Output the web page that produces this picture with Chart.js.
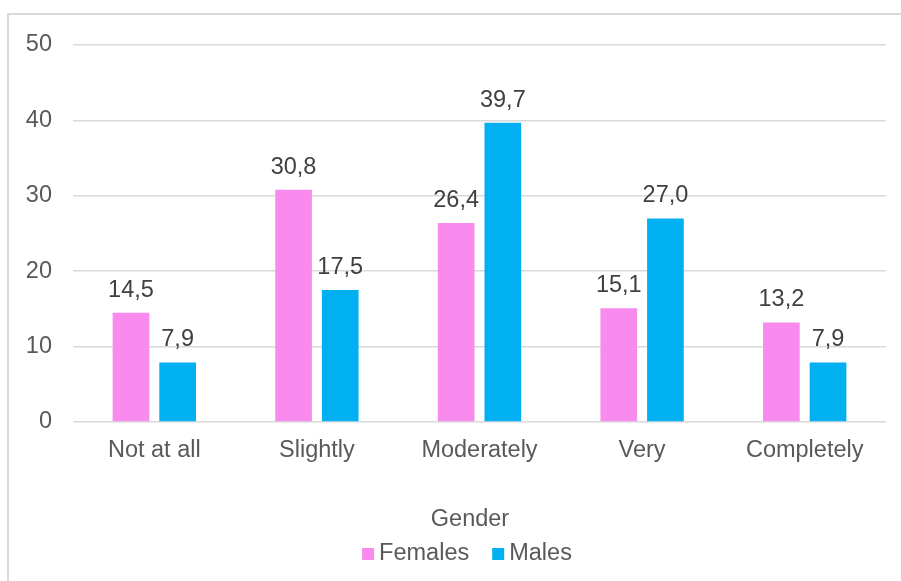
<!DOCTYPE html>
<html>
<head>
<meta charset="utf-8">
<script src="https://cdn.jsdelivr.net/npm/chart.js@4.4.1/dist/chart.umd.min.js"></script>
<style>
  html, body { margin: 0; padding: 0; background: #ffffff; }
  #wrap { width: 901px; height: 581px; }
</style>
</head>
<body>
<div id="wrap"><canvas id="c" width="901" height="581"></canvas></div>
<script>
// Response categories and share (%) by gender
const categories = ['Not at all', 'Slightly', 'Moderately', 'Very', 'Completely'];
const females = [14.5, 30.8, 26.4, 15.1, 13.2];
const males = [7.9, 17.5, 39.7, 27.0, 7.9];
const yTicks = [0, 10, 20, 30, 40, 50];
const legendTitle = 'Gender';

const FONT = '"Liberation Sans", Arial, sans-serif';
const FONT_SIZE = 23.5;
const TEXT = '#595959';

// Light grey frame around the whole chart
const framePlugin = {
  id: 'frame',
  beforeDraw(chart) {
    const ctx = chart.ctx;
    ctx.save();
    ctx.strokeStyle = '#d9d9d9';
    ctx.lineWidth = 2;
    ctx.strokeRect(8, 14, 910, 590);
    ctx.restore();
  }
};

// Value labels above each bar, decimal comma
const valueLabels = {
  id: 'valueLabels',
  afterDatasetsDraw(chart) {
    const ctx = chart.ctx;
    ctx.save();
    ctx.font = FONT_SIZE + 'px ' + FONT;
    ctx.fillStyle = '#404040';
    ctx.textAlign = 'center';
    ctx.textBaseline = 'alphabetic';
    chart.data.datasets.forEach((ds, di) => {
      chart.getDatasetMeta(di).data.forEach((bar, i) => {
        const txt = ds.data[i].toFixed(1).replace('.', ',');
        ctx.fillText(txt, bar.x, bar.y - 16);
      });
    });
    ctx.restore();
  }
};

// Legend with title, drawn below the x axis labels
const bottomLegend = {
  id: 'bottomLegend',
  afterDraw(chart) {
    const ctx = chart.ctx;
    const cx = 467;
    ctx.save();
    ctx.font = FONT_SIZE + 'px ' + FONT;
    ctx.fillStyle = TEXT;
    ctx.textBaseline = 'alphabetic';
    ctx.textAlign = 'center';
    ctx.fillText(legendTitle, cx + 3, 526);

    const box = 12, gapText = 5, gapItem = 23;
    const items = chart.data.datasets.map(ds => ({
      label: ds.label, color: ds.backgroundColor,
      w: box + gapText + ctx.measureText(ds.label).width
    }));
    const total = items.reduce((s, it) => s + it.w, 0) + gapItem * (items.length - 1);
    let x = cx - total / 2;
    const baseline = 560;
    ctx.textAlign = 'left';
    items.forEach(it => {
      ctx.fillStyle = it.color;
      ctx.fillRect(x, baseline - box, box, box);
      ctx.fillStyle = TEXT;
      ctx.fillText(it.label, x + box + gapText, baseline);
      x += it.w + gapItem;
    });
    ctx.restore();
  }
};

new Chart(document.getElementById('c'), {
  type: 'bar',
  data: {
    labels: categories,
    datasets: [
      { label: 'Females', data: females, backgroundColor: '#F98AEE' },
      { label: 'Males', data: males, backgroundColor: '#00B0F0' }
    ]
  },
  options: {
    responsive: false,
    animation: false,
    devicePixelRatio: 1,
    categoryPercentage: 0.574,
    barPercentage: 0.786,
    layout: { padding: { left: 0, right: 15, top: 45, bottom: 93 } },
    plugins: {
      tooltip: { enabled: false },
      legend: { display: false }
    },
    scales: {
      x: {
        grid: { display: false },
        border: { display: false },
        ticks: { color: TEXT, font: { family: FONT, size: FONT_SIZE }, padding: 6, maxRotation: 0 },
        afterFit(scale) { scale.height = 66; }
      },
      y: {
        min: 0,
        max: 50,
        afterBuildTicks(scale) { scale.ticks = yTicks.map(v => ({ value: v })); },
        grid: { color: '#d9d9d9', lineWidth: 1.5, drawTicks: false },
        border: { display: false },
        ticks: { color: TEXT, font: { family: FONT, size: FONT_SIZE }, padding: 21 },
        afterFit(scale) { scale.width = 73; }
      }
    }
  },
  plugins: [framePlugin, valueLabels, bottomLegend]
});
</script>
</body>
</html>
